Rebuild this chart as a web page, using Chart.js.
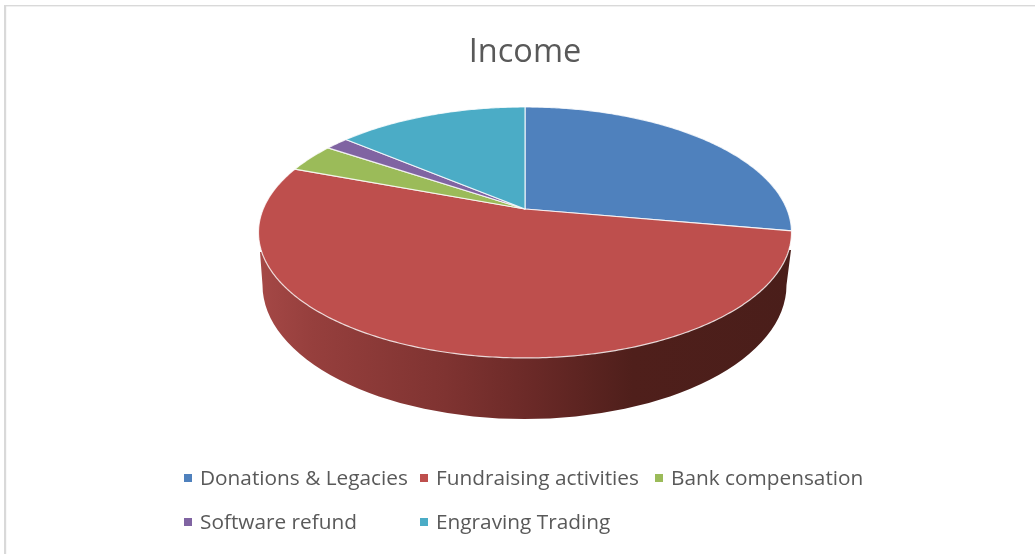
<!DOCTYPE html>
<html>
<head>
<meta charset="utf-8">
<style>html,body{margin:0;padding:0;background:#fff}canvas{display:block}</style>
<script src="https://cdn.jsdelivr.net/npm/chart.js@4/dist/chart.umd.js"></script>
</head>
<body>
<canvas id="c" width="1035" height="554"></canvas>
<script>
const categories = ["Donations & Legacies", "Fundraising activities", "Bank compensation", "Software refund", "Engraving Trading"];
const shares = [27.8, 52.9, 3.7, 1.7, 13.9];
const sliceColors = ["#4f81bd", "#be4f4d", "#9bbb59", "#8064a2", "#4bacc6"];
const titleText = "Income";

const FONT = '"Open Sans", "Noto Sans", sans-serif';
const TEXT = "#595959";

// Perspective view of the unit disc: apex of the pie and the projective terms.
const view = { cx: 525, cy: 209, a: 261.8, b: 121.1, k: -0.187 };
function project(angle) {
  const u = Math.cos(angle), v = Math.sin(angle), w = 1 + view.k * v;
  return [view.cx + view.a * u / w, view.cy + view.b * v / w];
}

// Each arc keeps the angles computed by the pie controller; only its outline is projected.
Chart.ArcElement.prototype.draw = function (ctx) {
  const { startAngle, endAngle } = this;
  const o = this.options;
  ctx.save();
  ctx.beginPath();
  ctx.moveTo(view.cx, view.cy);
  const n = Math.max(8, Math.ceil((endAngle - startAngle) * 90));
  for (let i = 0; i <= n; i++) {
    const p = project(startAngle + (endAngle - startAngle) * i / n);
    ctx.lineTo(p[0], p[1]);
  }
  ctx.closePath();
  ctx.fillStyle = o.backgroundColor;
  ctx.fill();
  ctx.strokeStyle = "rgba(255,255,255,0.8)";
  ctx.lineWidth = 1.2;
  ctx.lineJoin = "round";
  ctx.stroke();
  ctx.restore();
};

const frame = {
  id: "frame",
  beforeDraw(chart) {
    const c = chart.ctx;
    c.save();
    c.fillStyle = "#fff";
    c.fillRect(0, 0, 1035, 554);
    c.fillStyle = "#d9d9d9";
    c.fillRect(4, 5, 1031, 1.4);
    c.fillRect(4, 5, 2.2, 549);
    c.restore();
  }
};

const wall = {
  id: "wall",
  beforeDatasetsDraw(chart) {
    const c = chart.ctx;
    const g = c.createLinearGradient(259, 0, 792, 0);
    g.addColorStop(0, "#a54846");
    g.addColorStop(0.1, "#963f3d");
    g.addColorStop(0.35, "#7f3331");
    g.addColorStop(0.5, "#6c2a28");
    g.addColorStop(0.7, "#4f1f1b");
    g.addColorStop(1, "#4a1e1a");
    c.save();
    c.beginPath();
    c.moveTo(791, 250);
    c.lineTo(786.5, 285);
    c.ellipse(524.5, 285, 262, 134, 0, 0, Math.PI, false);
    c.lineTo(260, 252);
    c.closePath();
    c.fillStyle = g;
    c.fill();
    c.restore();
  }
};

const gridLegend = {
  id: "gridLegend",
  afterDraw(chart) {
    const c = chart.ctx;
    const columns = [184, 420, 655], rows = [478, 522];
    c.save();
    c.font = "20.8px " + FONT;
    c.textBaseline = "middle";
    c.textAlign = "left";
    chart.data.labels.forEach((label, i) => {
      const x = columns[i % 3], y = rows[Math.floor(i / 3)];
      c.fillStyle = sliceColors[i];
      c.fillRect(x, y - 4, 8, 8);
      c.fillStyle = TEXT;
      c.fillText(label, x + 16, y + 1);
    });
    c.restore();
  }
};

new Chart(document.getElementById("c"), {
  type: "pie",
  data: {
    labels: categories,
    datasets: [{ data: shares, backgroundColor: sliceColors, borderWidth: 0 }]
  },
  plugins: [frame, wall, gridLegend],
  options: {
    responsive: false,
    animation: false,
    events: [],
    layout: { padding: { left: 15, top: 33, bottom: 100 } },
    plugins: {
      legend: { display: false },
      tooltip: { enabled: false },
      title: {
        display: true,
        text: titleText,
        color: TEXT,
        font: { family: FONT, size: 32.5, weight: "normal" },
        padding: { top: 0, bottom: 10 }
      }
    }
  }
});
</script>
</body>
</html>
